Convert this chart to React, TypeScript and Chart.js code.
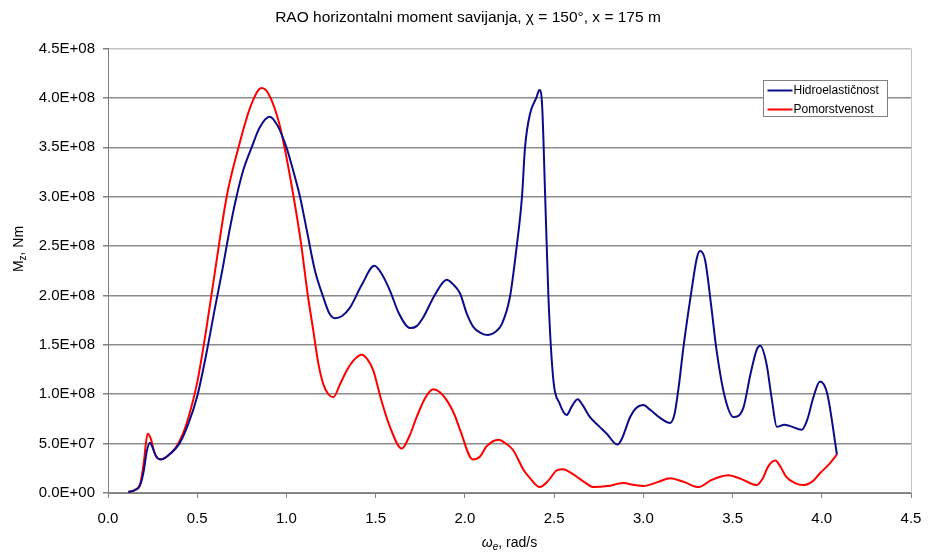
import React, { useEffect, useRef } from "react";
import { Chart, registerables } from "chart.js";

Chart.register(...registerables);

const FONT = "'Liberation Sans', Arial, sans-serif";

const TITLE = "RAO horizontalni moment savijanja, χ = 150°, x = 175 m";
const SERIES_NAMES = ["Hidroelastičnost", "Pomorstvenost"];
const SERIES_COLORS = ["#0c0c8a", "#ff0000"];

const X_TICK_LABELS = ["0.0", "0.5", "1.0", "1.5", "2.0", "2.5", "3.0", "3.5", "4.0", "4.5"];
const Y_TICK_LABELS = [
  "0.0E+00", "5.0E+07", "1.0E+08", "1.5E+08", "2.0E+08",
  "2.5E+08", "3.0E+08", "3.5E+08", "4.0E+08", "4.5E+08",
];

// Hidroelastičnost (blue)
const HYDRO_OMEGA = [
  0.114, 0.15, 0.18, 0.2, 0.217, 0.235, 0.25, 0.27, 0.3, 0.35, 0.4, 0.45, 0.5, 0.55, 0.6, 0.64, 0.68, 0.72,
  0.76, 0.805, 0.85, 0.905, 0.95, 1.0, 1.04, 1.076, 1.114, 1.16, 1.207, 1.24, 1.272, 1.31, 1.357, 1.42,
  1.493, 1.53, 1.58, 1.63, 1.693, 1.73, 1.767, 1.83, 1.898, 1.93, 1.973, 2.01, 2.048, 2.09, 2.13, 2.17,
  2.207, 2.253, 2.29, 2.32, 2.337, 2.365, 2.4, 2.418, 2.432, 2.45, 2.468, 2.496, 2.53, 2.57, 2.6, 2.632,
  2.66, 2.7, 2.75, 2.795, 2.855, 2.88, 2.926, 2.96, 3.0, 3.04, 3.094, 3.15, 3.175, 3.2, 3.225, 3.27, 3.3,
  3.318, 3.346, 3.38, 3.41, 3.457, 3.505, 3.56, 3.6, 3.635, 3.655, 3.69, 3.72, 3.748, 3.79, 3.82, 3.888,
  3.92, 3.953, 3.99, 4.03, 4.085,
];
const HYDRO_MOMENT = [
  0.01e8, 0.03e8, 0.08e8, 0.22e8, 0.42e8, 0.51e8, 0.46e8, 0.37e8, 0.34e8, 0.4e8, 0.5e8, 0.7e8, 0.98e8,
  1.4e8, 1.88e8, 2.25e8, 2.65e8, 3.0e8, 3.28e8, 3.5e8, 3.7e8, 3.81e8, 3.72e8, 3.5e8, 3.25e8, 3.0e8,
  2.66e8, 2.25e8, 1.98e8, 1.82e8, 1.77e8, 1.79e8, 1.88e8, 2.1e8, 2.3e8, 2.23e8, 2.05e8, 1.82e8, 1.67e8,
  1.69e8, 1.78e8, 2.0e8, 2.16e8, 2.12e8, 2.02e8, 1.82e8, 1.68e8, 1.62e8, 1.6e8, 1.63e8, 1.71e8, 1.99e8,
  2.49e8, 3.0e8, 3.5e8, 3.84e8, 4.0e8, 4.08e8, 3.95e8, 3.0e8, 1.99e8, 1.14e8, 0.91e8, 0.79e8, 0.88e8,
  0.95e8, 0.89e8, 0.77e8, 0.68e8, 0.6e8, 0.49e8, 0.55e8, 0.77e8, 0.86e8, 0.89e8, 0.84e8, 0.76e8, 0.71e8,
  0.8e8, 1.1e8, 1.48e8, 2.05e8, 2.38e8, 2.45e8, 2.36e8, 1.9e8, 1.45e8, 0.97e8, 0.77e8, 0.86e8, 1.2e8,
  1.45e8, 1.49e8, 1.31e8, 0.95e8, 0.67e8, 0.69e8, 0.68e8, 0.64e8, 0.75e8, 0.97e8, 1.13e8, 1.01e8, 0.39e8,
];

// Pomorstvenost (red)
const SEAKEEP_OMEGA = [
  0.114, 0.15, 0.18, 0.2, 0.222, 0.24, 0.26, 0.29, 0.33, 0.38, 0.42, 0.45, 0.5, 0.55, 0.6, 0.665, 0.73,
  0.8, 0.86, 0.9, 0.96, 1.0, 1.04, 1.08, 1.12, 1.15, 1.18, 1.207, 1.235, 1.263, 1.3, 1.338, 1.38, 1.422,
  1.455, 1.487, 1.53, 1.58, 1.646, 1.69, 1.73, 1.78, 1.824, 1.86, 1.898, 1.94, 1.973, 2.044, 2.085, 2.12,
  2.188, 2.23, 2.27, 2.33, 2.365, 2.42, 2.47, 2.515, 2.55, 2.59, 2.627, 2.67, 2.72, 2.8, 2.888, 2.95, 3.0,
  3.08, 3.15, 3.23, 3.309, 3.38, 3.43, 3.477, 3.55, 3.636, 3.67, 3.7, 3.74, 3.77, 3.8, 3.85, 3.897, 3.95,
  3.99, 4.04, 4.085,
];
const SEAKEEP_MOMENT = [
  0.01e8, 0.03e8, 0.09e8, 0.3e8, 0.6e8, 0.55e8, 0.41e8, 0.34e8, 0.37e8, 0.46e8, 0.6e8, 0.76e8, 1.12e8,
  1.65e8, 2.25e8, 3.0e8, 3.49e8, 3.92e8, 4.1e8, 4.04e8, 3.74e8, 3.4e8, 3.0e8, 2.55e8, 2.0e8, 1.65e8,
  1.3e8, 1.1e8, 1.0e8, 0.97e8, 1.1e8, 1.24e8, 1.35e8, 1.4e8, 1.35e8, 1.24e8, 0.95e8, 0.67e8, 0.45e8,
  0.58e8, 0.77e8, 0.97e8, 1.05e8, 1.02e8, 0.94e8, 0.8e8, 0.64e8, 0.34e8, 0.37e8, 0.47e8, 0.54e8, 0.5e8,
  0.435e8, 0.23e8, 0.15e8, 0.06e8, 0.13e8, 0.23e8, 0.24e8, 0.21e8, 0.165e8, 0.11e8, 0.06e8, 0.07e8,
  0.1e8, 0.08e8, 0.07e8, 0.11e8, 0.15e8, 0.11e8, 0.06e8, 0.13e8, 0.165e8, 0.18e8, 0.14e8, 0.08e8, 0.15e8,
  0.27e8, 0.33e8, 0.26e8, 0.165e8, 0.1e8, 0.08e8, 0.12e8, 0.2e8, 0.29e8, 0.39e8,
];

function drawRich(ctx: CanvasRenderingContext2D, parts: { t: string; f: string; dy: number }[], cx: number, cy: number) {
  let total = 0;
  for (const p of parts) {
    ctx.font = p.f;
    total += ctx.measureText(p.t).width;
  }
  let x = cx - total / 2;
  ctx.textAlign = "left";
  ctx.textBaseline = "middle";
  for (const p of parts) {
    ctx.font = p.f;
    ctx.fillText(p.t, x, cy + p.dy);
    x += ctx.measureText(p.t).width;
  }
}

const decorPlugin = {
  id: "decor",
  afterDraw(chart: any) {
    const { ctx, chartArea: ca } = chart;
    ctx.save();
    // plot-area right border
    ctx.strokeStyle = "#c4c4c4";
    ctx.lineWidth = 1;
    ctx.beginPath();
    ctx.moveTo(Math.round(ca.right) + 0.5, ca.top);
    ctx.lineTo(Math.round(ca.right) + 0.5, ca.bottom);
    ctx.stroke();

    // legend
    const lx = Math.round(ca.right - 148) + 0.5;
    const ly = Math.round(ca.top + 31) + 0.5;
    const w = 124;
    const h = 36;
    ctx.fillStyle = "#ffffff";
    ctx.fillRect(lx, ly, w, h);
    ctx.strokeStyle = "#808080";
    ctx.lineWidth = 1;
    ctx.strokeRect(lx, ly, w, h);
    const rows = [ly + 10, ly + 29];
    chart.data.datasets.forEach((ds: any, i: number) => {
      ctx.strokeStyle = ds.borderColor;
      ctx.lineWidth = 2;
      ctx.beginPath();
      ctx.moveTo(lx + 4, rows[i]);
      ctx.lineTo(lx + 29, rows[i]);
      ctx.stroke();
      ctx.fillStyle = "#000";
      ctx.font = `12px ${FONT}`;
      ctx.textAlign = "left";
      ctx.textBaseline = "middle";
      ctx.fillText(ds.label, lx + 30, rows[i] + 0.5);
    });

    // axis titles
    ctx.fillStyle = "#000";
    const cx = (ca.left + ca.right) / 2;
    drawRich(
      ctx,
      [
        { t: "ω", f: `italic 14px ${FONT}`, dy: 0 },
        { t: "e", f: `italic 10px ${FONT}`, dy: 4 },
        { t: ", rad/s", f: `14px ${FONT}`, dy: 0 },
      ],
      cx,
      543
    );
    ctx.save();
    ctx.translate(19, 249);
    ctx.rotate(-Math.PI / 2);
    drawRich(
      ctx,
      [
        { t: "M", f: `14px ${FONT}`, dy: 0 },
        { t: "z", f: `10px ${FONT}`, dy: 4 },
        { t: ", Nm", f: `14px ${FONT}`, dy: 0 },
      ],
      0,
      0
    );
    ctx.restore();
    ctx.restore();
  },
};

export default function App() {
  const ref = useRef<HTMLCanvasElement | null>(null);

  useEffect(() => {
    if (!ref.current) return;
    const mk = (xs: number[], ys: number[]) => xs.map((x, i) => ({ x, y: ys[i] }));
    const chart = new Chart(ref.current, {
      type: "line",
      data: {
        datasets: [
          {
            label: SERIES_NAMES[0],
            data: mk(HYDRO_OMEGA, HYDRO_MOMENT),
            borderColor: SERIES_COLORS[0],
            backgroundColor: SERIES_COLORS[0],
            borderWidth: 2,
            pointRadius: 0,
            cubicInterpolationMode: "monotone",
            fill: false,
          },
          {
            label: SERIES_NAMES[1],
            data: mk(SEAKEEP_OMEGA, SEAKEEP_MOMENT),
            borderColor: SERIES_COLORS[1],
            backgroundColor: SERIES_COLORS[1],
            borderWidth: 2,
            pointRadius: 0,
            cubicInterpolationMode: "monotone",
            fill: false,
          },
        ],
      },
      options: {
        responsive: false,
        animation: false,
        devicePixelRatio: 1,
        layout: { padding: { left: 25, right: 19, top: 0, bottom: 0 } },
        plugins: {
          legend: { display: false },
          tooltip: { enabled: false },
          title: {
            display: true,
            text: TITLE,
            color: "#000",
            font: { family: FONT, size: 15.5, weight: "normal" },
            padding: { top: 8, bottom: 22 },
          },
        },
        scales: {
          x: {
            type: "linear",
            min: 0,
            max: 4.5,
            afterBuildTicks: (s: any) => {
              s.ticks = X_TICK_LABELS.map((l) => ({ value: parseFloat(l) }));
            },
            afterFit: (s: any) => {
              s.height = 59;
              s.paddingLeft = 0;
              s.paddingRight = 12;
            },
            ticks: {
              autoSkip: false,
              maxRotation: 0,
              color: "#000",
              font: { family: FONT, size: 15 },
              padding: 12,
              callback: (_v: any, i: number) => X_TICK_LABELS[i],
            },
            grid: {
              drawOnChartArea: false,
              drawTicks: true,
              tickLength: 5,
              color: "#808080",
            },
            border: { display: true, color: "#808080", width: 1 },
          },
          y: {
            type: "linear",
            min: 0,
            max: 4.5e8,
            afterBuildTicks: (s: any) => {
              s.ticks = Y_TICK_LABELS.map((l) => ({ value: parseFloat(l) }));
            },
            afterFit: (s: any) => {
              s.width = 83;
            },
            ticks: {
              autoSkip: false,
              color: "#000",
              font: { family: FONT, size: 15 },
              padding: 8,
              callback: (_v: any, i: number) => Y_TICK_LABELS[i],
            },
            grid: {
              drawOnChartArea: true,
              drawTicks: true,
              tickLength: 5,
              lineWidth: 1.5,
              color: (c: any) => (c.tick && c.tick.value >= 4.5e8 ? "#c4c4c4" : "#8c8c8c"),
              tickColor: "#808080",
            },
            border: { display: true, color: "#808080", width: 1 },
          },
        },
      },
      plugins: [decorPlugin],
    });
    return () => chart.destroy();
  }, []);

  return (
    <div style={{ position: "absolute", left: 0, top: 0, width: 930, height: 552, background: "#fff" }}>
      <canvas ref={ref} width={930} height={552} />
    </div>
  );
}
